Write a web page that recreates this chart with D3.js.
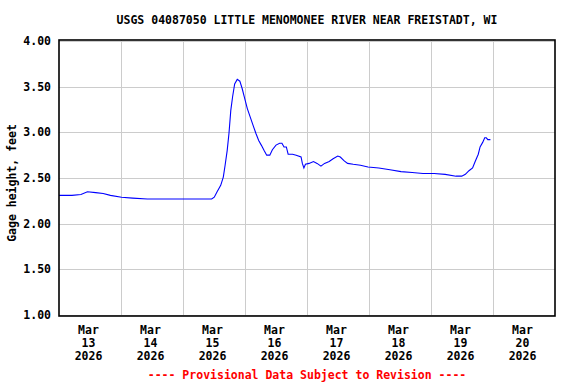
<!DOCTYPE html>
<html>
<head>
  <meta charset="utf-8">
  <title>USGS 04087050 Gage height</title>
  <script src="https://d3js.org/d3.v7.min.js"></script>
  <style>
    body { margin: 0; background: #fff; }
    text { font-family: "DejaVu Sans Mono", monospace; font-weight: bold; font-size: 11.5px; }
    .grid line { stroke: #cccccc; stroke-width: 1px; }
    .line { fill: none; stroke: #0000ff; stroke-width: 1.1px; }
  </style>
</head>
<body>
<script>
  // Hours after 2026-03-13 00:00 and gage height (feet).
  const hours = [0, 5.0, 8.5, 11.0, 14.2, 17.1, 19.9, 24.2, 28.5, 34.2, 41.3, 48.4, 55.5, 59.1,
    60.1, 61.2, 62.6, 63.6, 64.3, 65.1, 65.8, 66.5, 67.2, 68.0, 69.0, 70.0, 70.9, 71.9, 72.9,
    74.0, 75.2, 76.2, 77.3, 78.3, 79.4, 80.4, 81.6, 82.6, 84.0, 85.4, 86.3, 87.1, 88.0, 88.7,
    90.4, 91.8, 93.7, 94.2, 94.8, 95.4, 96.8, 98.5, 99.9, 101.4, 102.8, 104.6, 106.1, 107.9,
    108.9, 110.3, 111.7, 113.9, 116.7, 119.6, 123.8, 128.1, 132.4, 136.7, 140.9, 145.2, 149.5,
    153.7, 155.9, 157.3, 158.7, 160.1, 161.1, 162.3, 163.0, 164.0, 164.8, 165.4, 166.0, 167.0];
  const gage = [2.31, 2.31, 2.32, 2.35, 2.34, 2.33, 2.31, 2.29, 2.28, 2.27, 2.27, 2.27, 2.27, 2.27,
    2.29, 2.35, 2.42, 2.51, 2.64, 2.80, 2.99, 3.24, 3.39, 3.53, 3.58, 3.56, 3.48, 3.37, 3.26,
    3.17, 3.07, 2.99, 2.91, 2.86, 2.80, 2.75, 2.75, 2.81, 2.86, 2.88, 2.88, 2.84, 2.84, 2.76,
    2.76, 2.75, 2.73, 2.66, 2.61, 2.65, 2.66, 2.68, 2.66, 2.63, 2.66, 2.68, 2.71, 2.74,
    2.73, 2.69, 2.66, 2.65, 2.64, 2.62, 2.61, 2.59, 2.57, 2.56, 2.55, 2.55, 2.54,
    2.52, 2.52, 2.54, 2.58, 2.61, 2.68, 2.76, 2.84, 2.89, 2.94, 2.94, 2.92, 2.92];
  const dayLabels = ["13", "14", "15", "16", "17", "18", "19", "20"];
  const yTicks = [1.0, 1.5, 2.0, 2.5, 3.0, 3.5, 4.0];

  const title = "USGS 04087050 LITTLE MENOMONEE RIVER NEAR FREISTADT, WI";
  const width = 576, height = 384;
  const margin = { top: 40, right: 21, bottom: 68, left: 59 };
  const start = new Date(2026, 2, 13);
  const end = new Date(2026, 2, 21);

  const svg = d3.select("body").append("svg")
    .attr("width", width)
    .attr("height", height);

  const x = d3.scaleTime().domain([start, end]).range([margin.left, width - margin.right]);
  const y = d3.scaleLinear().domain([1, 4]).range([315, 41]);

  const data = hours.map((h, i) => ({ t: new Date(start.getTime() + h * 3600e3), v: gage[i] }));
  const days = d3.timeDay.range(start, end);

  // gridlines
  const grid = svg.append("g").attr("class", "grid");
  grid.selectAll(".gx").data(days.slice(1))
    .enter().append("line")
      .attr("x1", d => Math.round(x(d)) + 0.5).attr("x2", d => Math.round(x(d)) + 0.5)
      .attr("y1", 40).attr("y2", 316);
  grid.selectAll(".gy").data(yTicks)
    .enter().append("line")
      .attr("x1", margin.left).attr("x2", width - margin.right)
      .attr("y1", d => Math.round(y(d)) + 0.5).attr("y2", d => Math.round(y(d)) + 0.5);

  // data line
  svg.append("path")
    .datum(data)
    .attr("class", "line")
    .attr("d", d3.line().x(d => x(d.t)).y(d => y(d.v)));

  // frame
  svg.append("rect")
    .attr("x", margin.left).attr("y", 40)
    .attr("width", width - margin.right - margin.left).attr("height", 276)
    .attr("fill", "none").attr("stroke", "#000").attr("stroke-width", 1.6);

  // y tick labels
  svg.selectAll(".ylab").data(yTicks)
    .enter().append("text")
      .attr("x", 51)
      .attr("y", d => y(d) + 4)
      .attr("text-anchor", "end")
      .text(d => d.toFixed(2));

  // x tick labels, centred on noon of each day
  const xl = svg.selectAll(".xlab").data(days)
    .enter().append("text")
      .attr("text-anchor", "middle")
      .attr("transform", d => `translate(${x(d3.timeHour.offset(d, 12)) - 1.5},0)`);
  xl.append("tspan").attr("x", 0).attr("y", 334).text("Mar");
  xl.append("tspan").attr("x", 0).attr("y", 347).text((d, i) => dayLabels[i]);
  xl.append("tspan").attr("x", 0).attr("y", 360).text("2026");

  // title
  svg.append("text")
    .attr("x", (margin.left + width - margin.right) / 2)
    .attr("y", 24)
    .attr("text-anchor", "middle")
    .text(title);

  // y axis label
  svg.append("text")
    .attr("transform", "translate(16,183) rotate(-90)")
    .attr("text-anchor", "middle")
    .text("Gage height, feet");

  // footer
  svg.append("text")
    .attr("x", 307)
    .attr("y", 379)
    .attr("text-anchor", "middle")
    .attr("fill", "#ff0000")
    .text("---- Provisional Data Subject to Revision ----");
</script>
</body>
</html>
